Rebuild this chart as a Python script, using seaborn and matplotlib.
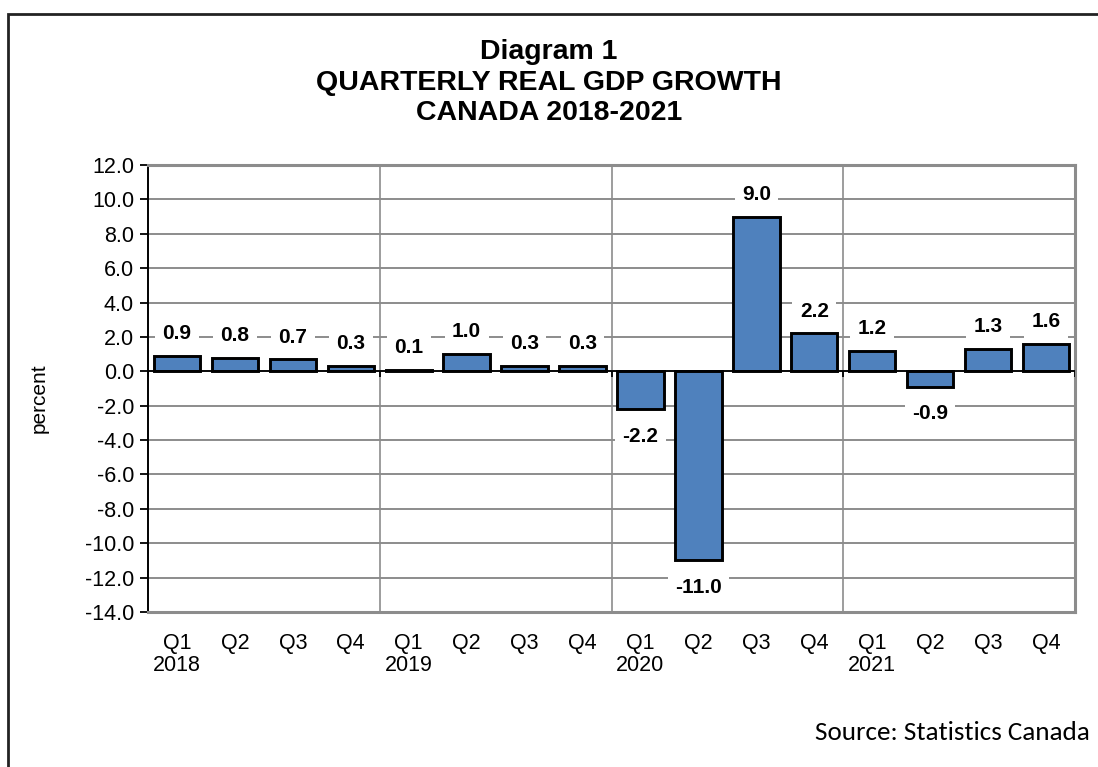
import pandas as pd
import numpy as np
import matplotlib
matplotlib.use('Agg')
import matplotlib.pyplot as plt
import seaborn as sns
from matplotlib.patches import Rectangle

# quarterly real GDP growth, percent
years = ['2018', '2019', '2020', '2021']
quarters = ['Q1', 'Q2', 'Q3', 'Q4']
growth = [0.9, 0.8, 0.7, 0.3,
          0.1, 1.0, 0.3, 0.3,
          -2.2, -11.0, 9.0, 2.2,
          1.2, -0.9, 1.3, 1.6]

periods = [f'{y}{q}' for y in years for q in quarters]
tick_labels = [f'{q}\n{y}' if q == 'Q1' else q for y in years for q in quarters]
df = pd.DataFrame({'period': periods, 'growth': growth})

sns.set_theme(style='white')
plt.rcParams['font.family'] = 'Liberation Sans'
plt.rcParams['text.color'] = 'black'
plt.rcParams['xtick.color'] = 'black'
plt.rcParams['ytick.color'] = 'black'
plt.rcParams['xtick.labelcolor'] = 'black'
plt.rcParams['ytick.labelcolor'] = 'black'

fig = plt.figure(figsize=(10.98, 7.67), dpi=100)
ax = fig.add_axes([148 / 1098, 155 / 767, 927 / 1098, 447 / 767])

sns.barplot(data=df, x='period', y='growth', order=periods, color='#4F81BD',
            saturation=1, edgecolor='black', linewidth=2.1, width=0.8, ax=ax, zorder=3)

ax.set_ylim(-14, 12)
ax.set_xlim(-0.5, len(periods) - 0.5)
yt = np.arange(-14, 12.1, 2)
ax.set_yticks(yt)
ax.set_yticklabels([f'{v:.1f}' for v in yt], fontsize=15.5)
ax.set_xticks(range(len(periods)))
ax.set_xticklabels(tick_labels, fontsize=15.5, linespacing=1.1, va='top')
ax.tick_params(axis='x', length=0, pad=15)
ax.tick_params(axis='y', length=6, width=1.3, color='black', direction='out', left=True, pad=4)
ax.set_xlabel('')
ax.set_ylabel('')

# gridlines: horizontal every 2, vertical between years
ax.set_xticks([3.5, 7.5, 11.5], minor=True)
ax.tick_params(axis='x', which='minor', length=0)
ax.grid(axis='y', which='major', color='#8c8c8c', linewidth=1.4, zorder=0)
ax.grid(axis='x', which='minor', color='#8c8c8c', linewidth=1.2, zorder=0)
ax.grid(axis='x', which='major', visible=False)
ax.set_axisbelow(True)

for side in ['top', 'right', 'bottom']:
    ax.spines[side].set_color('#8c8c8c')
    ax.spines[side].set_linewidth(2.2)
ax.spines['left'].set_color('black')
ax.spines['left'].set_linewidth(1.4)

ax.axhline(0, color='black', linewidth=1.3, zorder=4)
ax.vlines([-0.5, 3.5, 7.5, 11.5, 15.5], -0.35, 0, color='black', linewidth=1.3, zorder=4)

# value labels
for i, v in enumerate(growth):
    off = 16 if v >= 0 else -19.5
    ax.annotate(f'{v:.1f}', (i, v), xytext=(0, off), textcoords='offset points',
                ha='center', va='center', fontsize=15, fontweight='bold', color='black', zorder=5,
                bbox=dict(boxstyle='square,pad=0.35', facecolor='white', edgecolor='none'))

for txt, ypx in [('Diagram 1', 52), ('QUARTERLY REAL GDP GROWTH', 83), ('CANADA 2018-2021', 113)]:
    fig.text(0.5, 1 - ypx / 767, txt, ha='center', va='center', fontsize=20.5, fontweight='bold')

fig.text(39 / 1098, 1 - 398 / 767, 'percent', rotation=90, ha='center', va='center', fontsize=15)
fig.text(1090 / 1098, 1 - 733 / 767, 'Source: Statistics Canada', ha='right', va='center',
         fontsize=19.5, family=['Carlito', 'Lato', 'DejaVu Sans'])

# outer frame of the document figure
fig.patches.append(Rectangle((8 / 1098, -0.05), 1.1, 1 - 14 / 767 + 0.05, transform=fig.transFigure,
                             fill=False, edgecolor='#222222', linewidth=2))

fig.savefig('out.png', dpi=100)
